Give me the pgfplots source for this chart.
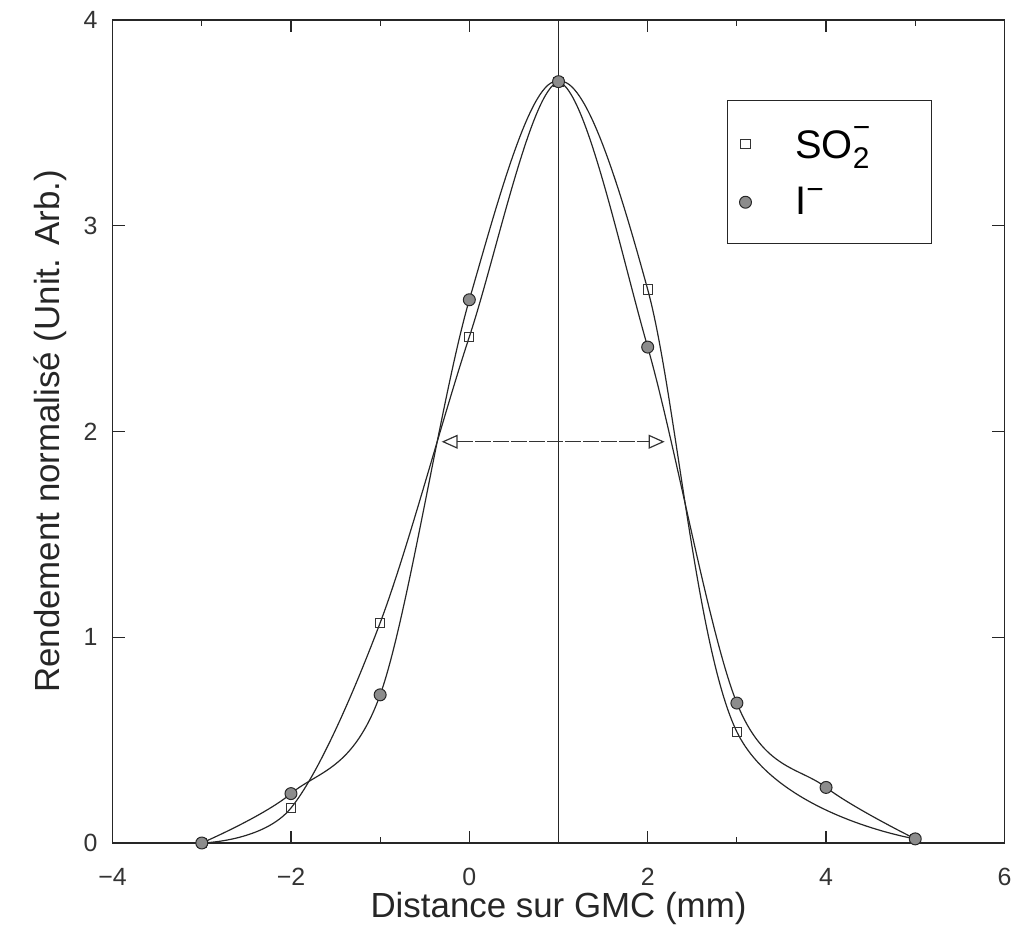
\documentclass[border=0pt]{standalone}
\usepackage{pgfplots}
\pgfplotsset{compat=1.18}
\usepackage{fontspec}
\setmainfont{Liberation Sans}
\usetikzlibrary{arrows.meta}
\newcommand{\lgs}[1]{\hbox{\fontsize{15}{15}\selectfont #1}}
\begin{document}
\begin{tikzpicture}
\begin{axis}[
  scale only axis,
  width=447.5pt, height=413pt,
  xmin=-4, xmax=6, ymin=0, ymax=4,
  xtick={-4,-2,0,2,4,6}, ytick={0,1,2,3,4},
  xticklabels={−4,−2,0,2,4,6},
  minor xtick={-3,-1,1,3,5},
  tick align=inside,
  major tick length=6pt, minor tick length=3pt,
  axis line style={line width=0.9pt, black!85},
  tick style={line width=0.6pt, black!85},
  /pgf/number format/assume math mode=true,
  ticklabel style={font=\fontsize{12.5}{15}\selectfont, black!80},
  xticklabel style={yshift=-9pt},
  yticklabel style={xshift=-4pt},
  xlabel={Distance sur GMC (mm)},
  ylabel={Rendement normalisé (Unit. Arb.)},
  label style={font=\fontsize{17.5}{21}\selectfont, black!85},
  xlabel style={at={(axis description cs:0.5,-0.08)}, anchor=center},
  ylabel style={at={(axis description cs:-0.0704,0.5)}, anchor=center},
  clip=false,
  legend style={at={(rel axis cs:0.689,0.903)}, anchor=north west,
    draw=black!85, line width=0.5pt,
    font=\fontsize{20}{24}\selectfont,
    inner xsep=6pt, inner ysep=11pt,
    row sep=9pt},
  legend cell align=left,
]
% curves
\addplot[black!85, line width=0.6pt, smooth, tension=0.55, forget plot] coordinates {
  (-3,0) (-2,0.17) (-1,1.07) (0,2.46) (1,3.70) (2,2.69) (3,0.54) (5,0.02)
};
\addplot[black!85, line width=0.6pt, smooth, tension=0.55, forget plot] coordinates {
  (-3,0) (-2,0.24) (-1,0.72) (0,2.64) (1,3.70) (2,2.41) (3,0.68) (4,0.27) (5,0.02)
};
% vertical line
\addplot[black!85, line width=0.6pt, forget plot] coordinates {(1,0) (1,4)};
% double arrow
\addplot[black!80, line width=0.5pt, dash pattern=on 8pt off 1pt,
  {Triangle[open, length=8pt, width=7pt, line width=0.6pt]}-{Triangle[open, length=8pt, width=7pt, line width=0.6pt]},
  forget plot] coordinates {(-0.31,1.95) (2.19,1.95)};
% marks
\addplot[only marks, mark=square, mark size=2.3pt, mark options={draw=black!80, line width=0.5pt, fill=white}] coordinates {
  (-3,0) (-2,0.17) (-1,1.07) (0,2.46) (1,3.70) (2,2.69) (3,0.54) (5,0.02)
};
\addlegendentry{\hspace*{20pt}SO$_{\lgs{2}}^{\raisebox{3pt}{\lgs{−}}}$\hspace*{22pt}}
\addplot[only marks, mark=*, mark size=3pt, mark options={draw=black!85, line width=0.5pt, fill=black!45}] coordinates {
  (-3,0) (-2,0.24) (-1,0.72) (0,2.64) (1,3.70) (2,2.41) (3,0.68) (4,0.27) (5,0.02)
};
\addlegendentry{\hspace*{20pt}I$^{\lgs{−}}$}
\end{axis}
\path[use as bounding box] ([xshift=-56.5pt,yshift=-49.5pt]current axis.south west) rectangle ([xshift=5pt,yshift=10pt]current axis.north east);
\end{tikzpicture}
\end{document}
